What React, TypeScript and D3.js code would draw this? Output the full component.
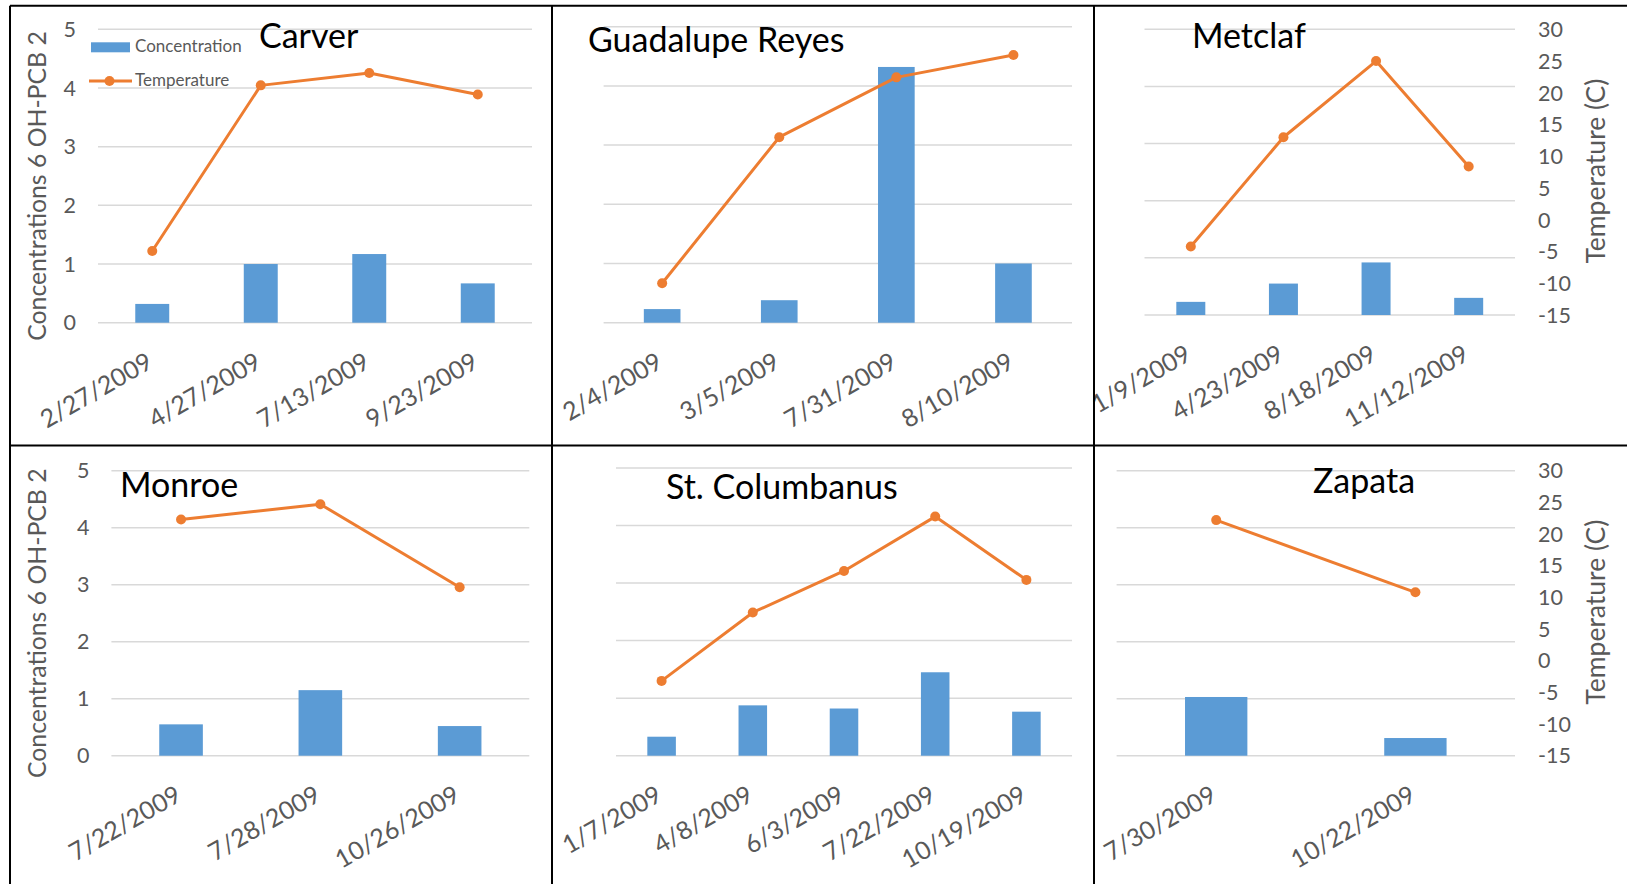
import React from "react";
import * as d3 from "d3";

// ---------- data ----------
const carverDates = ["2/27/2009", "4/27/2009", "7/13/2009", "9/23/2009"];
const carverConc = [0.32, 1.0, 1.17, 0.67];
const carverTemp = [-4.0, 21.4, 23.3, 20.0];

const guadalupeDates = ["2/4/2009", "3/5/2009", "7/31/2009", "8/10/2009"];
const guadalupeConc = [0.23, 0.38, 4.32, 1.0];
const guadalupeTemp = [-9.0, 13.2, 22.3, 25.7];

const metclafDates = ["1/9/2009", "4/23/2009", "8/18/2009", "11/12/2009"];
const metclafConc = [0.23, 0.55, 0.92, 0.3];
const metclafTemp = [-4.2, 13.0, 25.0, 8.4];

const monroeDates = ["7/22/2009", "7/28/2009", "10/26/2009"];
const monroeConc = [0.55, 1.15, 0.52];
const monroeTemp = [22.3, 24.7, 11.6];

const columbanusDates = ["1/7/2009", "4/8/2009", "6/3/2009", "7/22/2009", "10/19/2009"];
const columbanusConc = [0.33, 0.875, 0.82, 1.45, 0.765];
const columbanusTemp = [-3.3, 7.4, 13.9, 22.4, 12.5];

const zapataDates = ["7/30/2009", "10/22/2009"];
const zapataConc = [1.03, 0.31];
const zapataTemp = [22.2, 10.8];

const concTicks = [0, 1, 2, 3, 4, 5];
const tempTicks = [-15, -10, -5, 0, 5, 10, 15, 20, 25, 30];

const leftAxisTitle = "Concentrations 6 OH-PCB 2";
const rightAxisTitle = "Temperature (C)";
const legendLabels = ["Concentration", "Temperature"];

// ---------- layout ----------
const BLUE = "#5B9BD5";
const ORANGE = "#ED7D31";
const GRID = "#D9D9D9";
const TICK = "#595959";
const FONT = "Lato, 'Open Sans', sans-serif";

type PanelCfg = {
  name: string;
  dates: string[];
  conc: number[];
  temp: number[];
  x0: number;
  x1: number;
  y0: number;
  y1: number;
  titleX: number;
  titleY: number;
  leftAxis?: boolean;
  rightAxis?: boolean;
  legend?: boolean;
};

const panels: PanelCfg[] = [
  { name: "Carver", dates: carverDates, conc: carverConc, temp: carverTemp, x0: 98, x1: 532, y0: 29.3, y1: 322.7, titleX: 259, titleY: 48, leftAxis: true, legend: true },
  { name: "Guadalupe Reyes", dates: guadalupeDates, conc: guadalupeConc, temp: guadalupeTemp, x0: 603.6, x1: 1072, y0: 26.7, y1: 322.7, titleX: 588, titleY: 51.7 },
  { name: "Metclaf", dates: metclafDates, conc: metclafConc, temp: metclafTemp, x0: 1144.5, x1: 1515, y0: 29.3, y1: 315, titleX: 1192, titleY: 48.3, rightAxis: true },
  { name: "Monroe", dates: monroeDates, conc: monroeConc, temp: monroeTemp, x0: 111.4, x1: 529.3, y0: 470.7, y1: 755.7, titleX: 120, titleY: 496.7, leftAxis: true },
  { name: "St. Columbanus", dates: columbanusDates, conc: columbanusConc, temp: columbanusTemp, x0: 616, x1: 1072, y0: 468, y1: 755.7, titleX: 666, titleY: 499.3 },
  { name: "Zapata", dates: zapataDates, conc: zapataConc, temp: zapataTemp, x0: 1116.6, x1: 1515, y0: 470.7, y1: 755.7, titleX: 1313, titleY: 493.3, rightAxis: true },
];

function Panel({ cfg }: { cfg: PanelCfg }) {
  const x = d3
    .scaleBand<string>()
    .domain(cfg.dates)
    .range([cfg.x0, cfg.x1])
    .paddingInner(0.687)
    .paddingOuter(0.3435);
  const yC = d3.scaleLinear().domain([0, 5]).range([cfg.y1, cfg.y0]);
  const yT = d3.scaleLinear().domain([-15, 30]).range([cfg.y1, cfg.y0]);
  const bw = x.bandwidth();
  const cx = (d: string) => (x(d) as number) + bw / 2;
  const pts = cfg.dates.map((d, i) => ({ d, t: cfg.temp[i] }));
  const line = d3
    .line<{ d: string; t: number }>()
    .x((p) => cx(p.d))
    .y((p) => yT(p.t));
  const midY = (cfg.y0 + cfg.y1) / 2;

  return (
    <g>
      {concTicks.map((t) => (
        <line key={"g" + t} x1={cfg.x0} x2={cfg.x1} y1={yC(t)} y2={yC(t)} stroke={GRID} strokeWidth={1.5} />
      ))}
      {cfg.dates.map((d, i) => (
        <rect key={"b" + d} x={x(d)} y={yC(cfg.conc[i])} width={bw} height={yC(0) - yC(cfg.conc[i])} fill={BLUE} />
      ))}
      <path d={line(pts) || ""} fill="none" stroke={ORANGE} strokeWidth={3} strokeLinejoin="round" />
      {pts.map((p) => (
        <circle key={"m" + p.d} cx={cx(p.d)} cy={yT(p.t)} r={5} fill={ORANGE} />
      ))}
      {cfg.dates.map((d) => (
        <text
          key={"x" + d}
          transform={`translate(${cx(d) + 2},${cfg.y1 + 44}) rotate(-30)`}
          textAnchor="end"
          fontSize={25}
          fill={TICK}
          fontFamily={FONT}
        >
          {d}
        </text>
      ))}
      {cfg.leftAxis &&
        concTicks.map((t) => (
          <text key={"l" + t} x={cfg.x0 - 22} y={yC(t)} dy="0.36em" textAnchor="end" fontSize={21.5} fill={TICK} fontFamily={FONT}>
            {t}
          </text>
        ))}
      {cfg.leftAxis && (
        <text
          transform={`translate(${37.5 + 8.5},${midY + 10}) rotate(-90)`}
          textAnchor="middle"
          fontSize={24.8}
          fill={TICK}
          fontFamily={FONT}
        >
          {leftAxisTitle}
        </text>
      )}
      {cfg.rightAxis &&
        tempTicks.map((t) => (
          <text key={"r" + t} x={cfg.x1 + 23} y={yT(t)} dy="0.36em" textAnchor="start" fontSize={21.5} fill={TICK} fontFamily={FONT}>
            {t}
          </text>
        ))}
      {cfg.rightAxis && (
        <text
          transform={`translate(${1595.5 + 9},${midY - 1}) rotate(-90)`}
          textAnchor="middle"
          fontSize={26.5}
          fill={TICK}
          fontFamily={FONT}
        >
          {rightAxisTitle}
        </text>
      )}
      <text x={cfg.titleX} y={cfg.titleY} fontSize={34} fill="#000" fontFamily={FONT}>
        {cfg.name}
      </text>
      {cfg.legend && (
        <g fontFamily={FONT} fontSize={17} fill={TICK}>
          <rect x={91} y={42.3} width={39} height={10} fill={BLUE} />
          <text x={135} y={52.3}>{legendLabels[0]}</text>
          <line x1={89} x2={132} y1={81} y2={81} stroke={ORANGE} strokeWidth={3} />
          <circle cx={109.5} cy={81} r={5} fill={ORANGE} />
          <text x={135} y={86}>{legendLabels[1]}</text>
        </g>
      )}
    </g>
  );
}

export default function App() {
  return (
    <svg width={1627} height={884} style={{ position: "absolute", left: 0, top: 0, background: "#fff" }}>
      <rect x={0} y={0} width={1627} height={884} fill="#fff" />
      {panels.map((p) => (
        <Panel key={p.name} cfg={p} />
      ))}
      <g stroke="#000" strokeWidth={2}>
        <line x1={10} x2={1627} y1={5.7} y2={5.7} />
        <line x1={10} x2={10} y1={5.7} y2={884} />
        <line x1={552} x2={552} y1={5.7} y2={884} />
        <line x1={1094} x2={1094} y1={5.7} y2={884} />
        <line x1={10} x2={1627} y1={445.5} y2={445.5} />
      </g>
    </svg>
  );
}
